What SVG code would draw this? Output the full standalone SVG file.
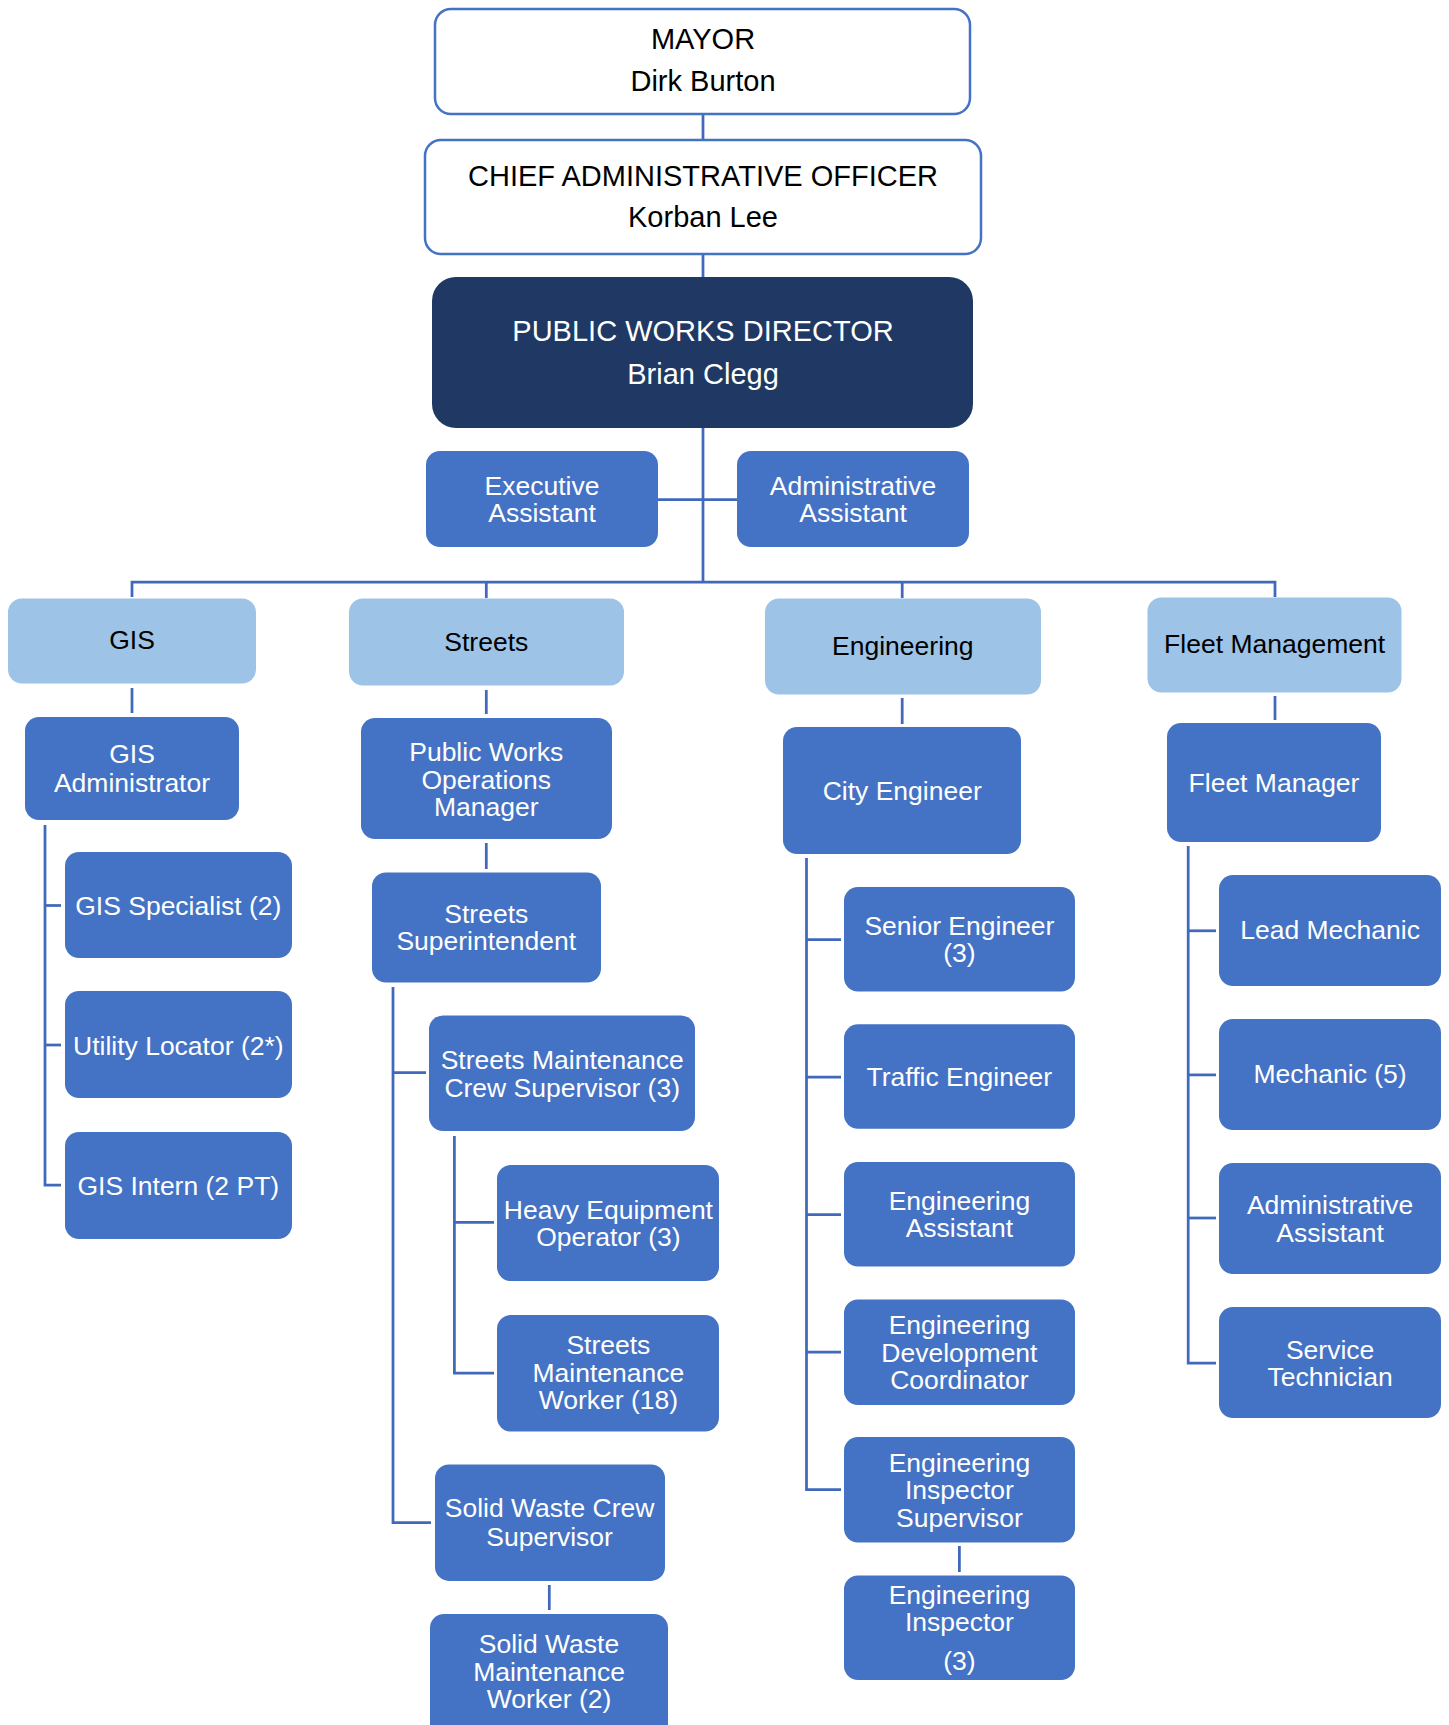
<svg xmlns="http://www.w3.org/2000/svg" width="1449" height="1725" viewBox="0 0 1449 1725">
  <style>
    .top { fill: #ffffff; stroke: #4472C4; stroke-width: 2.5; }
    .dir { fill: #203864; }
    .dept { fill: #9DC3E6; }
    .role { fill: #4472C4; }
    text { font-family: "Liberation Sans", Arial, sans-serif; text-anchor: middle; }
    .t29 { font-size: 29px; fill: #000000; }
    .t29w { font-size: 29px; fill: #ffffff; }
    .tk { font-size: 26.5px; fill: #000000; }
    .tw { font-size: 26.5px; fill: #ffffff; }
    .conn { fill: none; stroke: #4069BC; stroke-width: 2.75; }
  </style>
  <rect width="1449" height="1725" fill="#ffffff"/>

  <!-- reporting lines -->
  <g id="connectors" class="conn">
    <path d="M703 114 V140"/>
    <path d="M703 254 V277"/>
    <path d="M703 428 V582"/>
    <path d="M658 499.5 H737"/>
    <path d="M132 597 V582 H1275 V597"/>
    <path d="M486.3 582 V598"/>
    <path d="M902.2 582 V598"/>
    <!-- GIS -->
    <path d="M132 688 V713"/>
    <path d="M45 825 V1185 H61"/>
    <path d="M45 905.5 H61"/>
    <path d="M45 1045 H61"/>
    <!-- Streets -->
    <path d="M486.3 690 V714"/>
    <path d="M486.3 843 V869"/>
    <path d="M393 987 V1522.7 H431"/>
    <path d="M393 1072.7 H426"/>
    <path d="M454.4 1136 V1373 H494"/>
    <path d="M454.4 1222.4 H494"/>
    <path d="M549.3 1585 V1610"/>
    <!-- Engineering -->
    <path d="M902.2 698 V724"/>
    <path d="M806.5 858 V1489.7 H841"/>
    <path d="M806.5 939.6 H841"/>
    <path d="M806.5 1077.1 H841"/>
    <path d="M806.5 1214.7 H841"/>
    <path d="M806.5 1352.2 H841"/>
    <path d="M959.4 1546 V1572"/>
    <!-- Fleet -->
    <path d="M1275 696 V720"/>
    <path d="M1188.2 846 V1363 H1216"/>
    <path d="M1188.2 930.8 H1216"/>
    <path d="M1188.2 1074.9 H1216"/>
    <path d="M1188.2 1218 H1216"/>
  </g>

  <g id="mayor">
    <rect class="top" x="435" y="9" width="535" height="105" rx="16"/>
    <text class="t29" x="703" y="49">MAYOR</text>
    <text class="t29" x="703" y="91">Dirk Burton</text>
  </g>
  <g id="cao">
    <rect class="top" x="425" y="140" width="556" height="114" rx="16"/>
    <text class="t29" x="703" y="185.5">CHIEF ADMINISTRATIVE OFFICER</text>
    <text class="t29" x="703" y="227">Korban Lee</text>
  </g>
  <g id="director">
    <rect class="dir" x="432" y="277" width="541" height="151" rx="24"/>
    <text class="t29w" x="703" y="340.5">PUBLIC WORKS DIRECTOR</text>
    <text class="t29w" x="703" y="383.5">Brian Clegg</text>
  </g>
  <g id="executive-assistant">
    <rect class="role" x="426" y="451" width="232" height="96" rx="14"/>
    <text class="tw" x="542" y="494.5">Executive</text>
    <text class="tw" x="542" y="522">Assistant</text>
  </g>
  <g id="administrative-assistant">
    <rect class="role" x="737" y="451" width="232" height="96" rx="14"/>
    <text class="tw" x="853" y="494.5">Administrative</text>
    <text class="tw" x="853" y="522">Assistant</text>
  </g>

  <!-- divisions -->
  <g id="dept-gis">
    <rect class="dept" x="8" y="598.5" width="248" height="85" rx="14"/>
    <text class="tk" x="132" y="648.5">GIS</text>
  </g>
  <g id="dept-streets">
    <rect class="dept" x="349" y="598.5" width="275" height="87" rx="14"/>
    <text class="tk" x="486.3" y="650.5">Streets</text>
  </g>
  <g id="dept-engineering">
    <rect class="dept" x="765" y="598.5" width="276" height="96" rx="14"/>
    <text class="tk" x="902.8" y="655.3">Engineering</text>
  </g>
  <g id="dept-fleet">
    <rect class="dept" x="1147.5" y="597.5" width="254" height="95" rx="14"/>
    <text class="tk" x="1274.6" y="653">Fleet Management</text>
  </g>

  <!-- GIS -->
  <g id="gis-administrator">
    <rect class="role" x="25" y="717" width="214" height="103" rx="14"/>
    <text class="tw" x="132" y="763">GIS</text>
    <text class="tw" x="132" y="792">Administrator</text>
  </g>
  <g id="gis-specialist">
    <rect class="role" x="65" y="852" width="227" height="106" rx="14"/>
    <text class="tw" x="178.3" y="915">GIS Specialist (2)</text>
  </g>
  <g id="utility-locator">
    <rect class="role" x="65" y="991" width="227" height="107" rx="14"/>
    <text class="tw" x="178.3" y="1054.5">Utility Locator (2*)</text>
  </g>
  <g id="gis-intern">
    <rect class="role" x="65" y="1132" width="227" height="107" rx="14"/>
    <text class="tw" x="178.3" y="1194.5">GIS Intern (2 PT)</text>
  </g>

  <!-- Streets -->
  <g id="operations-manager">
    <rect class="role" x="361" y="718" width="251" height="121" rx="14"/>
    <text class="tw" x="486.3" y="761">Public Works</text>
    <text class="tw" x="486.3" y="788.5">Operations</text>
    <text class="tw" x="486.3" y="816">Manager</text>
  </g>
  <g id="streets-superintendent">
    <rect class="role" x="372" y="872.5" width="229" height="110" rx="14"/>
    <text class="tw" x="486.3" y="922.7">Streets</text>
    <text class="tw" x="486.3" y="950.2">Superintendent</text>
  </g>
  <g id="crew-supervisor">
    <rect class="role" x="429" y="1015.5" width="266" height="115.5" rx="14"/>
    <text class="tw" x="562.2" y="1069">Streets Maintenance</text>
    <text class="tw" x="562.2" y="1096.5">Crew Supervisor (3)</text>
  </g>
  <g id="equipment-operator">
    <rect class="role" x="497" y="1165" width="222" height="116" rx="14"/>
    <text class="tw" x="608.4" y="1218.5">Heavy Equipment</text>
    <text class="tw" x="608.4" y="1246.2">Operator (3)</text>
  </g>
  <g id="maintenance-worker">
    <rect class="role" x="497" y="1315" width="222" height="116.5" rx="14"/>
    <text class="tw" x="608.4" y="1354">Streets</text>
    <text class="tw" x="608.4" y="1381.5">Maintenance</text>
    <text class="tw" x="608.4" y="1409">Worker (18)</text>
  </g>
  <g id="solid-waste-supervisor">
    <rect class="role" x="435" y="1464.4" width="230" height="116.5" rx="14"/>
    <text class="tw" x="549.6" y="1516.8">Solid Waste Crew</text>
    <text class="tw" x="549.6" y="1545.5">Supervisor</text>
  </g>
  <g id="solid-waste-worker">
    <rect class="role" x="430" y="1614" width="238" height="130" rx="14"/>
    <text class="tw" x="549" y="1653.2">Solid Waste</text>
    <text class="tw" x="549" y="1680.8">Maintenance</text>
    <text class="tw" x="549" y="1708.2">Worker (2)</text>
  </g>

  <!-- Engineering -->
  <g id="city-engineer">
    <rect class="role" x="783" y="727" width="238" height="127" rx="14"/>
    <text class="tw" x="902.2" y="799.5">City Engineer</text>
  </g>
  <g id="senior-engineer">
    <rect class="role" x="844" y="887" width="231" height="104.5" rx="14"/>
    <text class="tw" x="959.4" y="934.8">Senior Engineer</text>
    <text class="tw" x="959.4" y="962.3">(3)</text>
  </g>
  <g id="traffic-engineer">
    <rect class="role" x="844" y="1024.3" width="231" height="104.5" rx="14"/>
    <text class="tw" x="959.4" y="1085.5">Traffic Engineer</text>
  </g>
  <g id="engineering-assistant">
    <rect class="role" x="844" y="1162" width="231" height="104.5" rx="14"/>
    <text class="tw" x="959.4" y="1209.8">Engineering</text>
    <text class="tw" x="959.4" y="1237.3">Assistant</text>
  </g>
  <g id="development-coordinator">
    <rect class="role" x="844" y="1299.4" width="231" height="105.6" rx="14"/>
    <text class="tw" x="959.4" y="1334.2">Engineering</text>
    <text class="tw" x="959.4" y="1361.7">Development</text>
    <text class="tw" x="959.4" y="1389.2">Coordinator</text>
  </g>
  <g id="inspector-supervisor">
    <rect class="role" x="844" y="1437" width="231" height="105.5" rx="14"/>
    <text class="tw" x="959.4" y="1471.7">Engineering</text>
    <text class="tw" x="959.4" y="1499.2">Inspector</text>
    <text class="tw" x="959.4" y="1526.7">Supervisor</text>
  </g>
  <g id="engineering-inspector">
    <rect class="role" x="844" y="1575.5" width="231" height="104.5" rx="14"/>
    <text class="tw" x="959.4" y="1603.7">Engineering</text>
    <text class="tw" x="959.4" y="1631.2">Inspector</text>
    <text class="tw" x="959.4" y="1669.7">(3)</text>
  </g>

  <!-- Fleet -->
  <g id="fleet-manager">
    <rect class="role" x="1167" y="723" width="214" height="119" rx="14"/>
    <text class="tw" x="1274" y="791.8">Fleet Manager</text>
  </g>
  <g id="lead-mechanic">
    <rect class="role" x="1219" y="875" width="222" height="111" rx="14"/>
    <text class="tw" x="1330.1" y="939.2">Lead Mechanic</text>
  </g>
  <g id="mechanic">
    <rect class="role" x="1219" y="1019" width="222" height="111" rx="14"/>
    <text class="tw" x="1330.1" y="1083.3">Mechanic (5)</text>
  </g>
  <g id="fleet-admin-assistant">
    <rect class="role" x="1219" y="1163" width="222" height="111" rx="14"/>
    <text class="tw" x="1330.1" y="1214.2">Administrative</text>
    <text class="tw" x="1330.1" y="1241.8">Assistant</text>
  </g>
  <g id="service-technician">
    <rect class="role" x="1219" y="1307" width="222" height="111" rx="14"/>
    <text class="tw" x="1330.1" y="1358.5">Service</text>
    <text class="tw" x="1330.1" y="1386">Technician</text>
  </g>
</svg>
